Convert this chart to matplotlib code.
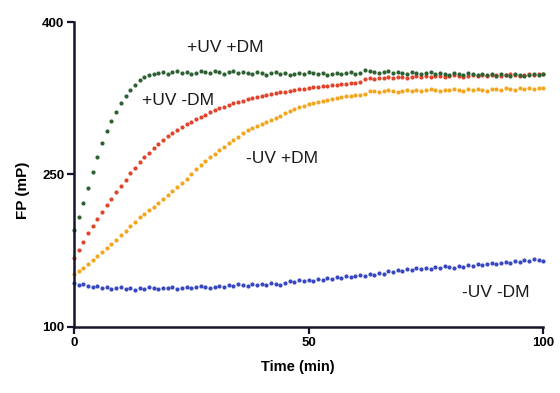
import numpy as np
import matplotlib
matplotlib.use("Agg")
import matplotlib.pyplot as plt

plt.rcParams['font.family'] = ['Liberation Sans', 'DejaVu Sans']

time_min = list(range(0, 101))

uv_dm = [195, 208, 222, 237, 252, 267, 281, 293, 303, 311, 320, 327, 333, 338, 343, 346, 348, 349,
         350, 351, 349, 351, 352, 350, 351, 349, 350, 352,
         351, 350, 352, 351, 349, 351, 352, 350, 351, 350,
         349, 351, 350, 348, 350, 351, 349, 350, 348, 349,
         350, 349, 351, 350, 349, 350, 348, 349, 350, 349,
         350, 351, 349, 350, 353, 352, 351, 350, 351, 352,
         350, 351, 350, 349, 351, 350, 349, 350, 351, 349,
         350, 349, 348, 350, 349, 348, 350, 349, 348, 349,
         348, 349, 347, 349, 348, 347, 349, 348, 347, 348,
         349, 348, 349]

uv_nodm = [168, 176, 184, 192, 199, 206, 213, 220, 226, 233,
           239, 245, 251, 256, 262, 267, 271, 276, 280, 284,
           288, 291, 294, 297, 300, 302, 305, 307, 309, 311,
           313, 315, 316, 318, 320, 321, 322, 324, 325, 326,
           327, 328, 329, 330, 331, 331, 332, 333, 334, 334,
           335, 336, 336, 337, 337, 338, 338, 339, 339, 340,
           340, 341, 344, 345, 344, 345, 345, 346, 345, 346,
           346, 345, 346, 347, 346, 347, 346, 347, 347, 346,
           347, 348, 347, 346, 347, 348, 347, 348, 347, 348,
           348, 347, 348, 349, 348, 347, 348, 349, 348, 349,
           349]

nouv_dm = [152, 155, 158, 162, 166, 170, 174, 178, 182, 186,
           190, 194, 199, 203, 208, 211, 215, 218, 222, 226,
           230, 234, 238, 242, 246, 250, 255, 259, 263, 267,
           270, 274, 277, 281, 284, 287, 291, 294, 296, 298,
           300, 302, 304, 306, 308, 310, 312, 314, 316, 317,
           319, 320, 321, 322, 323, 324, 325, 326, 327, 327,
           328, 328, 329, 332, 332, 331, 332, 333, 332, 331,
           332, 333, 332, 333, 332, 333, 334, 333, 332, 333,
           333, 334, 333, 332, 334, 333, 334, 333, 332, 334,
           334, 333, 335, 334, 333, 335, 334, 335, 334, 335,
           335]

nouv_nodm = [143, 141, 142, 140, 139, 140, 138, 139, 137, 138,
             139, 137, 138, 136, 138, 137, 139, 138, 137, 138,
             138, 139, 137, 138, 139, 138, 139, 140, 139, 138,
             139, 140, 139, 141, 140, 142, 141, 140, 142, 141,
             142, 141, 143, 142, 141, 143, 145, 144, 146, 145,
             146, 145, 147, 146, 148, 147, 149, 148, 150, 149,
             150, 151, 150, 152, 151, 153, 152, 155, 154, 156,
             155, 157, 156, 158, 157, 158, 157, 159, 158, 160,
             159, 158, 160, 159, 161, 160, 162, 161, 162, 163,
             162, 163, 164, 163, 165, 164, 166, 165, 167, 166,
             165]

series_labels = ["-UV -DM", "-UV +DM", "+UV -DM", "+UV +DM"]
label_pos = [(89.8, 134), (44.4, 266), (22.2, 323), (32.2, 375)]
colors = ["#3848c0", "#f2a61e", "#e0452b", "#2d6132"]

fig = plt.figure(figsize=(5.6, 3.93), dpi=100)
ax = fig.add_axes([0.132, 0.168, 0.838, 0.776])

for ys, c in zip([nouv_nodm, nouv_dm, uv_nodm, uv_dm], colors):
    ax.plot(time_min, ys, linestyle='none', marker='o', ms=3.0, mec='none', mfc=c, clip_on=False)

for lab, (x, y) in zip(series_labels, label_pos):
    ax.text(x, y, lab, ha='center', va='center', fontsize=12.5, color='#1a1a1a')

ax.set_xlim(0, 100)
ax.set_ylim(100, 400)
ax.set_xticks([0, 50, 100])
ax.set_yticks([100, 250, 400])
for s in ['top', 'right']:
    ax.spines[s].set_visible(False)
for s in ['left', 'bottom']:
    ax.spines[s].set_linewidth(1.8)
    ax.spines[s].set_color('#15152a')
ax.tick_params(axis='both', direction='out', length=5, width=1.6, color='#15152a',
               labelsize=9.5, pad=2)
for t in ax.get_xticklabels() + ax.get_yticklabels():
    t.set_fontweight('bold')
ax.set_xlabel("Time (min)", fontsize=10.5, fontweight='bold')
ax.set_ylabel("FP (mP)", fontsize=11, fontweight='bold')
ax.xaxis.set_label_coords(0.478, -0.131)
ax.xaxis.label.set_va('center')
ax.yaxis.set_label_coords(-0.109, 0.449)
ax.yaxis.label.set_va('center')

fig.savefig("out.png", dpi=100)
